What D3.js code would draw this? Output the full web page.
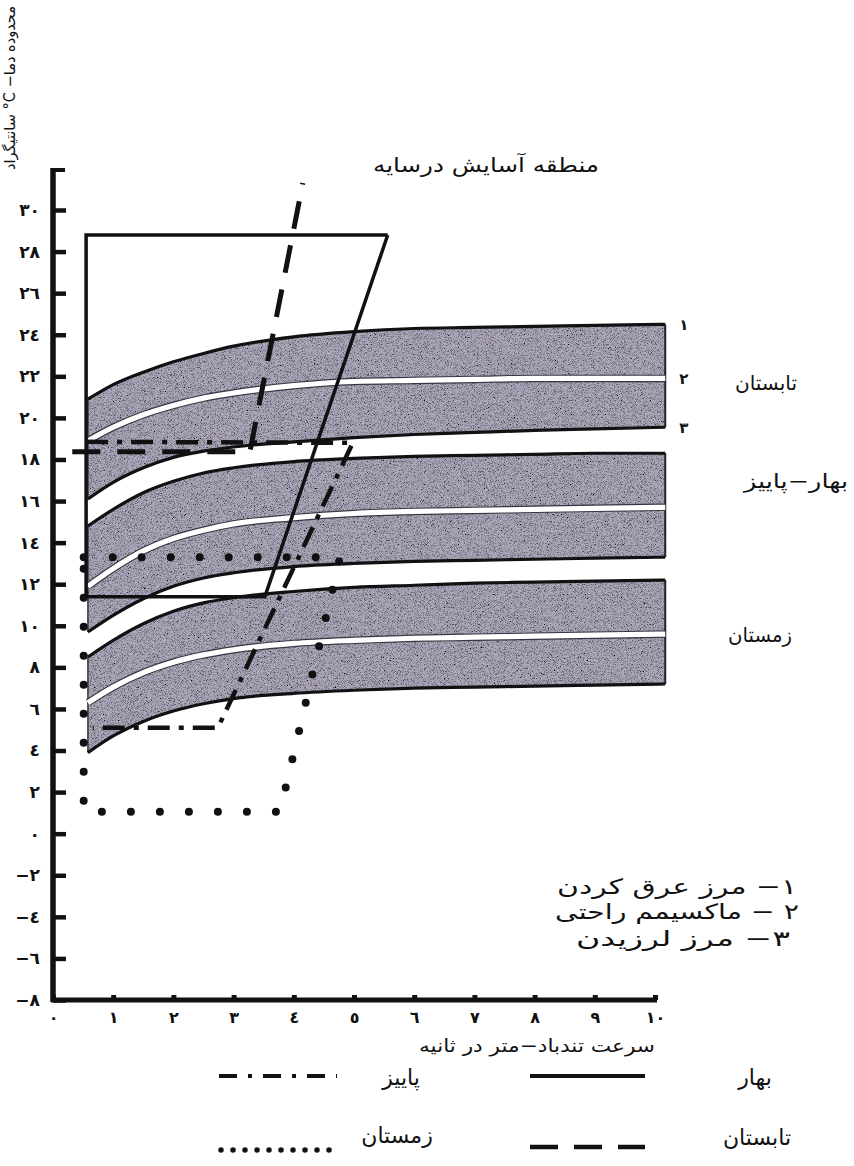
<!DOCTYPE html>
<html lang="fa">
<head>
<meta charset="UTF-8">
<title>منطقه آسایش درسایه</title>
<script src="https://d3js.org/d3.v7.min.js"></script>
<style>
  html, body { margin: 0; padding: 0; background: #fff; }
  svg { display: block; font-family: "DejaVu Sans", sans-serif; }
</style>
</head>
<body>
<svg id="chart" width="854" height="1166"></svg>
<script>
// سرعت باد (متر در ثانیه) - نقاط خوانده شده روی منحنی ها
const windSpeeds = [0.58, 1, 1.5, 2, 2.5, 3, 4, 5, 6, 7, 8, 9, 10.17];

// تابستان : ۱ مرز عرق کردن / ۲ ماکسیمم راحتی / ۳ مرز لرزیدن
const summerSweat   = [20.9, 21.6, 22.2, 22.7, 23.1, 23.45, 23.9, 24.15, 24.3, 24.35, 24.4, 24.45, 24.5];
const summerComfort = [18.9, 19.55, 20.15, 20.6, 20.95, 21.2, 21.55, 21.75, 21.8, 21.85, 21.9, 21.9, 21.9];
const summerShiver  = [16.1, 16.9, 17.6, 18.1, 18.4, 18.6, 18.85, 19.05, 19.2, 19.3, 19.4, 19.47, 19.55];

// بهار - پاییز
const springSweat   = [14.8, 15.6, 16.4, 16.95, 17.35, 17.6, 17.9, 18.05, 18.15, 18.2, 18.25, 18.3, 18.3];
const springComfort = [11.9, 12.75, 13.6, 14.2, 14.6, 14.9, 15.2, 15.4, 15.5, 15.55, 15.6, 15.65, 15.7];
const springShiver  = [9.7, 10.5, 11.3, 11.9, 12.3, 12.55, 12.85, 13.0, 13.1, 13.15, 13.2, 13.25, 13.3];

// زمستان
const winterSweat   = [8.5, 9.3, 10.1, 10.7, 11.1, 11.35, 11.65, 11.85, 11.95, 12.05, 12.1, 12.15, 12.2];
const winterComfort = [6.3, 7.05, 7.75, 8.25, 8.6, 8.85, 9.15, 9.3, 9.4, 9.45, 9.5, 9.55, 9.6];
const winterShiver  = [3.9, 4.7, 5.4, 5.9, 6.25, 6.5, 6.75, 6.9, 7.0, 7.05, 7.1, 7.15, 7.2];

// مرز منطقه آسایش در سایه برای هر فصل [سرعت باد, دما]
const springZone = [[5.56, 28.8], [0.55, 28.8], [0.55, 11.4], [3.52, 11.4], [5.56, 28.8]];
const autumnZone = [[0.55, 18.85], [4.98, 18.8], [2.74, 5.1], [0.66, 5.1]];
const summerZone = [[0.32, 18.37], [3.27, 18.37], [4.15, 31.3]];
const winterZone = [[0.51, 13.3], [4.77, 13.3], [3.77, 1.06], [0.51, 1.06], [0.51, 13.3]];

// محورها
const tempTicks = [30, 28, 26, 24, 22, 20, 18, 16, 14, 12, 10, 8, 6, 4, 2, 0, -2, -4, -6, -8];
const tempTickLabels = ["٣٠", "٢٨", "٢٦", "٢٤", "٢٢", "٢٠", "١٨", "١٦", "١٤", "١٢", "١٠", "٨", "٦", "٤", "٢", "٠", "−٢", "−٤", "−٦", "−٨"];
const speedTicks = [0, 1, 2, 3, 4, 5, 6, 7, 8, 9, 10];
const speedTickLabels = ["٠", "١", "٢", "٣", "٤", "٥", "٦", "٧", "٨", "٩", "١٠"];

const bandNumbers = ["١", "٢", "٣"];
const bandNotes = ["١− مرز عرق کردن", "٢ − ماکسیمم راحتی", "٣− مرز لرزیدن"];
const seasonLabels = ["تابستان", "بهار−پاییز", "زمستان"];

const svg = d3.select("#chart");
const x = d3.scaleLinear().domain([0, 10]).range([53, 655]);
const y = d3.scaleLinear().domain([-8, 30]).range([1000, 210]);

// بافت دانه دار نوار ها
const defs = svg.append("defs");
const grain = defs.append("filter").attr("id", "grain")
    .attr("x", 0).attr("y", 0).attr("width", "100%").attr("height", "100%");
grain.append("feTurbulence").attr("type", "fractalNoise")
    .attr("baseFrequency", 1.3).attr("numOctaves", 2).attr("seed", 7).attr("result", "noise");
grain.append("feColorMatrix").attr("in", "noise").attr("type", "matrix")
    .attr("values", "2.6 0 0 0 -0.45  2.6 0 0 0 -0.45  2.6 0 0 0 -0.45  0 0 0 0 1")
    .attr("result", "grey");
grain.append("feBlend").attr("in", "SourceGraphic").attr("in2", "grey")
    .attr("mode", "multiply").attr("result", "mixed");
grain.append("feComposite").attr("in", "mixed").attr("in2", "SourceGraphic").attr("operator", "in");

const bands = [
    { top: summerSweat, mid: summerComfort, bottom: summerShiver },
    { top: springSweat, mid: springComfort, bottom: springShiver },
    { top: winterSweat, mid: winterComfort, bottom: winterShiver }
];

const curve = d3.curveMonotoneX;
const area = d3.area().curve(curve)
    .x(d => x(d.v)).y0(d => y(d.b)).y1(d => y(d.t));
const lineOf = key => d3.line().curve(curve).x(d => x(d.v)).y(d => y(d[key]));

const gBands = svg.append("g");
bands.forEach(band => {
    const pts = windSpeeds.map((v, i) => ({ v, t: band.top[i], m: band.mid[i], b: band.bottom[i] }));
    const first = pts[0], last = pts[pts.length - 1];

    gBands.append("path").datum(pts)
        .attr("d", area)
        .attr("fill", "#aea8bc")
        .attr("filter", "url(#grain)");

    // لبه ها
    gBands.append("line")
        .attr("x1", x(first.v)).attr("x2", x(first.v))
        .attr("y1", y(first.t)).attr("y2", y(first.b))
        .attr("stroke", "#333").attr("stroke-width", 1.5);
    gBands.append("line")
        .attr("x1", x(last.v)).attr("x2", x(last.v))
        .attr("y1", y(last.t)).attr("y2", y(last.b))
        .attr("stroke", "#222").attr("stroke-width", 2);

    // خط سفید ماکسیمم راحتی
    gBands.append("path").datum(pts).attr("d", lineOf("m"))
        .attr("fill", "none").attr("stroke", "#3a3640").attr("stroke-width", 7.5);
    gBands.append("path").datum(pts).attr("d", lineOf("m"))
        .attr("fill", "none").attr("stroke", "#fff").attr("stroke-width", 5.2);

    // مرز بالا و پایین
    ["t", "b"].forEach(k => {
        gBands.append("path").datum(pts).attr("d", lineOf(k))
            .attr("fill", "none").attr("stroke", "#111").attr("stroke-width", 3.2);
    });
});

// شماره منحنی ها در کنار نوار تابستان
const summerEnd = [summerSweat, summerComfort, summerShiver].map(a => a[a.length - 1]);
svg.append("g").selectAll("text").data(summerEnd).join("text")
    .attr("x", x(windSpeeds[windSpeeds.length - 1]) + 14)
    .attr("y", d => y(d) + 6)
    .attr("font-size", 15).attr("font-weight", "bold").attr("fill", "#111")
    .text((d, i) => bandNumbers[i]);

// مرز فصل ها
const zoneLine = d3.line().x(d => x(d[0])).y(d => y(d[1]));
const gZones = svg.append("g").attr("fill", "none").attr("stroke", "#111");

gZones.append("path").datum(springZone).attr("d", zoneLine)
    .attr("stroke-width", 3.5).attr("stroke-linejoin", "miter");
gZones.append("path").datum(autumnZone).attr("d", zoneLine)
    .attr("stroke-width", 4.5).attr("stroke-dasharray", "22 9 5 9");
gZones.append("path").datum(summerZone).attr("d", zoneLine)
    .attr("stroke-width", 5).attr("stroke-dasharray", "28 17");
gZones.append("path").datum(winterZone).attr("d", zoneLine)
    .attr("stroke-width", 8).attr("stroke-linecap", "round").attr("stroke-dasharray", "0 29");

// محور دما
const yAxis = svg.append("g").attr("transform", `translate(${x(0)},0)`)
    .call(d3.axisLeft(y).tickValues(tempTicks).tickSize(-13).tickPadding(13)
        .tickFormat((d, i) => tempTickLabels[i]));
yAxis.select(".domain").remove();
yAxis.selectAll(".tick line").attr("stroke", "#111").attr("stroke-width", 4.5);
yAxis.selectAll(".tick text").attr("font-size", 17).attr("font-weight", "bold")
    .attr("fill", "#111").attr("font-family", "DejaVu Sans, sans-serif");

svg.append("line")
    .attr("x1", x(0)).attr("x2", x(0)).attr("y1", 168).attr("y2", y(-8) + 2)
    .attr("stroke", "#111").attr("stroke-width", 5.5);
svg.append("line")
    .attr("x1", x(0)).attr("x2", x(0) + 12).attr("y1", 170).attr("y2", 170)
    .attr("stroke", "#111").attr("stroke-width", 4);

// محور سرعت باد
const xAxis = svg.append("g").attr("transform", `translate(0,${y(-8)})`)
    .call(d3.axisBottom(x).tickValues(speedTicks).tickSize(-5).tickPadding(12)
        .tickFormat((d, i) => speedTickLabels[i]));
xAxis.select(".domain").remove();
xAxis.selectAll(".tick line").attr("stroke", "#111").attr("stroke-width", 5);
xAxis.selectAll(".tick text").attr("font-size", 16).attr("font-weight", "bold")
    .attr("fill", "#111").attr("font-family", "DejaVu Sans, sans-serif");
svg.append("line")
    .attr("x1", x(0) - 2).attr("x2", x(10) + 2).attr("y1", y(-8)).attr("y2", y(-8))
    .attr("stroke", "#111").attr("stroke-width", 5);

// نوشته ها
const txt = (xx, yy, s, size, len) => {
    const t = svg.append("text").attr("x", xx).attr("y", yy)
        .attr("text-anchor", "middle").attr("font-size", size).attr("fill", "#111")
        .attr("direction", "rtl").text(s);
    if (len) t.attr("textLength", len).attr("lengthAdjust", "spacingAndGlyphs");
    return t;
};

txt(486, 172, "منطقه آسایش درسایه", 20, 226);
txt(0, 0, "محدوده دما− C° سانتیگراد", 15, 164)
    .attr("transform", "translate(15,88) rotate(-90)");
txt(537, 1052, "سرعت تندباد−متر در ثانیه", 18, 236);

txt(766, 390, seasonLabels[0], 20, 62);
txt(796, 488, seasonLabels[1], 20, 104);
txt(760, 642, seasonLabels[2], 20, 64);

const noteLens = [240, 244, 214];
svg.append("g").selectAll("text").data(bandNotes).join("text")
    .attr("x", (d, i) => [677, 677, 683][i]).attr("y", (d, i) => [894, 919, 946][i])
    .attr("text-anchor", "middle").attr("direction", "rtl")
    .attr("font-size", 21).attr("fill", "#111")
    .attr("textLength", (d, i) => noteLens[i]).attr("lengthAdjust", "spacingAndGlyphs")
    .text(d => d);

// راهنمای فصل ها
const legendSeasons = ["بهار", "پاییز", "تابستان", "زمستان"];
const legendPos = [[755, 1085], [401, 1085], [757, 1145], [397, 1143]];
const legendStyles = [
    { y: 1076, x1: 530, x2: 645, w: 4, dash: null, cap: "butt" },
    { y: 1076, x1: 219, x2: 337, w: 4, dash: "18 11 4 11", cap: "butt" },
    { y: 1147, x1: 530, x2: 645, w: 4.5, dash: "28 16", cap: "butt" },
    { y: 1150, x1: 221, x2: 330, w: 5.5, dash: "0 12", cap: "round" }
];
const gLegend = svg.append("g");
legendSeasons.forEach((s, i) => {
    gLegend.append("text").attr("x", legendPos[i][0]).attr("y", legendPos[i][1])
        .attr("text-anchor", "middle").attr("direction", "rtl")
        .attr("font-size", 22).attr("fill", "#111").text(s);
    const st = legendStyles[i];
    gLegend.append("line")
        .attr("x1", st.x1).attr("x2", st.x2).attr("y1", st.y).attr("y2", st.y)
        .attr("stroke", "#111").attr("stroke-width", st.w)
        .attr("stroke-linecap", st.cap)
        .attr("stroke-dasharray", st.dash);
});
</script>
</body>
</html>
